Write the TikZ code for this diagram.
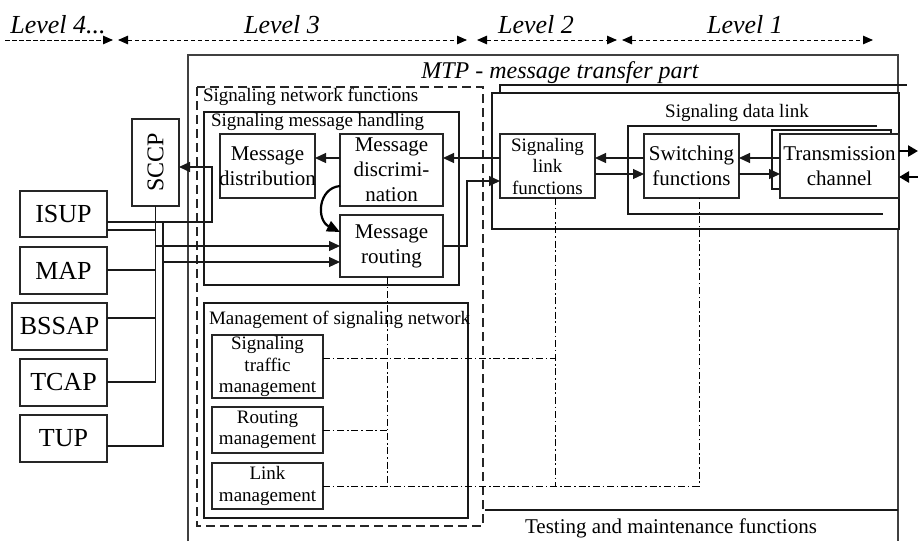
\documentclass[tikz,border=0pt]{standalone}
\usepackage{fontspec}
\setmainfont{Liberation Serif}
\usetikzlibrary{arrows.meta,calc}
\newcommand\szA{\fontsize{19}{21.5}\selectfont}
\newcommand\szB{\fontsize{21}{25}\selectfont}
\newcommand\szC{\fontsize{26}{30}\selectfont}
\begin{document}
\begin{tikzpicture}[x=1pt,y=-1pt,
  every node/.style={inner sep=0pt,outer sep=0pt},
  box/.style={draw=black!85,line width=1.2pt,fill=white,align=center,inner sep=0pt},
  ln/.style={line width=1.2pt,draw=black!90},
  arr/.style={ln,-{Triangle[length=11pt,width=10pt]}},
  lvl/.style={line width=1pt,dash pattern=on 4.5pt off 2.5pt},
  dashbox/.style={line width=1.2pt,draw=black!85,dash pattern=on 9pt off 5pt},
  dd/.style={line width=1pt,dash pattern=on 7pt off 2.8pt on 1.6pt off 2.8pt},
  outer/.style={line width=1.5pt,draw=black!75},
  thickarr/.style={line width=2.8pt,-{Triangle[length=10pt,width=11pt]}},
  curv/.style={line width=2.2pt,-{Triangle[length=13pt,width=11pt]}},
  lvltxt/.style={font=\fontsize{26}{30}\selectfont\itshape},
  lbl/.style={font=\szA}
]
\useasboundingbox (0,0) rectangle (918,541);

% ---------- levels ----------
\coordinate (l4s) at (5,40);   \coordinate (l4e) at (113,40);
\coordinate (l3s) at (118,40); \coordinate (l3e) at (467,40);
\coordinate (l2s) at (477,40); \coordinate (l2e) at (617,40);
\coordinate (l1s) at (622,40); \coordinate (l1e) at (873,40);
\draw[lvl,-{Triangle[length=10pt,width=8.5pt]}] (l4s) -- (l4e);
\draw[lvl,{Triangle[length=10pt,width=8.5pt]}-{Triangle[length=10pt,width=8.5pt]}] (l3s) -- (l3e);
\draw[lvl,{Triangle[length=10pt,width=8.5pt]}-{Triangle[length=10pt,width=8.5pt]}] (l2s) -- (l2e);
\draw[lvl,{Triangle[length=10pt,width=8.5pt]}-{Triangle[length=10pt,width=8.5pt]}] (l1s) -- (l1e);
\node[lvltxt] (t4) at (58,25) {Level 4...};
\node[lvltxt] (t3) at (282,25) {Level 3};
\node[lvltxt] (t2) at (536,25) {Level 2};
\node[lvltxt] (t1) at (745,25) {Level 1};

% ---------- MTP outer ----------
\draw[outer] (188,541) -- (188,55) -- (898,55) -- (898,541);
\node[font=\fontsize{24}{28}\selectfont\itshape] (mtp) at (560,73) {MTP - message transfer part};

% ---------- level 2/1 region ----------
\draw[ln] (500,93) -- (500,85) -- (907,85);
\draw[ln,fill=white] (492,93) rectangle (899,229);
\node[lbl] (sdl) at (737,113) {Signaling data link};
\draw[ln] (877,126) -- (628,126) -- (628,214) -- (883,214);

\node[box,font=\szA,minimum width=95,minimum height=64] (slf) at (547.5,166) {Signaling\\link\\functions};
\node[box,font=\szB,minimum width=95,minimum height=64] (sw) at (691.5,166) {Switching\\functions};
\draw[ln,fill=white] (772,130) rectangle (891,189);
\node[box,font=\szB,minimum width=119,minimum height=64] (tr) at (839.5,166) {Transmission\\channel};

\coordinate (yA) at (0,158);
\coordinate (yB) at (0,174);
\draw[arr] (sw.west |- yA) -- (slf.east |- yA);
\draw[arr] (slf.east |- yB) -- (sw.west |- yB);
\draw[arr] (tr.west |- yA) -- (sw.east |- yA);
\draw[arr] (sw.east |- yB) -- (tr.west |- yB);
\coordinate (rOut) at (918,151);
\coordinate (rIn) at (918,177);
\draw[thickarr] (tr.east |- rOut) -- (rOut);
\draw[thickarr] (rIn) -- (tr.east |- rIn);

% ---------- signaling network functions ----------
\draw[dashbox] (197,87) rectangle (483,526);
\node[lbl,anchor=west] (snf) at (203,97) {Signaling network functions};

\draw[ln] (204,112) rectangle (459,285);
\node[lbl,anchor=west] (smh) at (211,122) {Signaling message handling};

\node[box,font=\szB,minimum width=95,minimum height=64] (dist) at (267.5,166) {Message\\\makebox[90pt]{distribution}};
\node[box,font=\szB,minimum width=103,minimum height=72] (disc) at (391.5,170) {Message\\discrimi-\\nation};
\node[box,font=\szB,minimum width=103,minimum height=62] (route) at (391.5,246) {Message\\routing};

\draw[arr] (slf.west |- yA) -- (disc.east |- yA);
\draw[arr] (disc.west |- yA) -- (dist.east |- yA);
\coordinate (rt1) at (467,246);
\coordinate (rt2) at (467,181);
\draw[arr] (route.east |- rt1) -- (rt1) -- (rt2) -- (slf.west |- rt2);
\coordinate (cA) at (0,186);
\coordinate (cB) at (0,232);
\draw[curv] (disc.west |- cA) .. controls (318,188) and (316,220) .. (route.west |- cB);

\draw[ln] (204,303) rectangle (468,518);
\node[lbl,anchor=west] (msn) at (209,320) {Management of signaling network};
\node[box,font=\szA,minimum width=111,minimum height=63] (stm) at (267.5,366.5) {Signaling\\traffic\\management};
\node[box,font=\szA,minimum width=111,minimum height=46] (rm) at (267.5,430) {Routing\\management};
\node[box,font=\szA,minimum width=111,minimum height=46] (lm) at (267.5,486) {Link\\management};

% ---------- dash-dot control lines ----------
\coordinate (d1b) at (387,486);
\coordinate (d2) at (555,358);
\coordinate (d3) at (699,486);
\coordinate (d4) at (555,486);
\draw[dd] (route.south -| d1b) -- (d1b);
\draw[dd] (stm.east |- d2) -- (d2);
\draw[dd] (rm.east) -- (rm.east -| d1b);
\draw[dd] (lm.east) -- (d3) -- (sw.south -| d3);
\draw[dd] (slf.south -| d4) -- (d4);

% ---------- testing ----------
\coordinate (tt1) at (485,510);
\coordinate (tt2) at (898,510);
\draw[ln] (tt1) -- (tt2);
\node[font=\szB] (tmf) at (671,528) {Testing and maintenance functions};

% ---------- user parts ----------
\node[box,font=\fontsize{24}{28}\selectfont,minimum width=47,minimum height=87] (sccp) at (155.5,162.5) {\rotatebox{90}{SCCP}};
\node[box,font=\szC,minimum width=87,minimum height=46] (isup) at (63.5,214) {ISUP};
\node[box,font=\szC,minimum width=87,minimum height=47] (map) at (63.5,270.5) {MAP};
\node[box,font=\szC,minimum width=95,minimum height=47] (bssap) at (59.5,326.5) {BSSAP};
\node[box,font=\szC,minimum width=87,minimum height=47] (tcap) at (63.5,382.5) {TCAP};
\node[box,font=\szC,minimum width=87,minimum height=47] (tup) at (63.5,438.5) {TUP};

\coordinate (yI1) at (0,222);
\coordinate (yI2) at (0,230);
\coordinate (jD1) at (212,222);
\coordinate (jD2) at (212,167);
\draw[arr] (isup.east |- yI1) -- (jD1) -- (jD2) -- (sccp.east |- jD2);
\coordinate (b1bot) at (155.5,382);
\draw[ln] (sccp.south) -- (b1bot) -- (tcap.east |- b1bot);
\draw[ln] (isup.east |- yI2) -- (sccp.south |- yI2);
\coordinate (yM) at (0,270);
\draw[ln] (map.east |- yM) -- (sccp.south |- yM);
\coordinate (yBS) at (0,318);
\draw[ln] (bssap.east |- yBS) -- (sccp.south |- yBS);
\coordinate (b2top) at (163,222);
\coordinate (b2bot) at (163,446);
\draw[ln] (b2top) -- (b2bot) -- (tup.east |- b2bot);
\coordinate (a1) at (155.5,246);
\coordinate (a2) at (163,262);
\draw[arr] (a1) -- (route.west |- a1);
\draw[arr] (a2) -- (route.west |- a2);
\end{tikzpicture}
\end{document}
